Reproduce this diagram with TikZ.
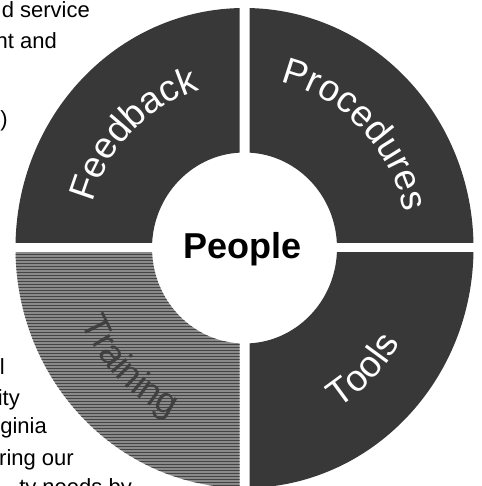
\documentclass[tikz,border=0pt]{standalone}
\usepackage{fontspec}
\setmainfont{Liberation Sans}
\usepackage{xcolor}
\usepackage{tikz}
\usetikzlibrary{decorations.text}
\usetikzlibrary{patterns}
\usetikzlibrary{positioning}

\definecolor{ringdark}{HTML}{383838}
\definecolor{ringgray}{HTML}{8A8A8A}
\definecolor{ringline}{HTML}{444444}

\newcommand{\ringfont}{\fontsize{37}{40}\selectfont}

\tikzset{
  ringtext/.style={decorate, decoration={text along path, text align=center, text color=#1}},
  bodytext/.style={anchor=base east, inner sep=0pt, font=\fontsize{22}{26}\selectfont},
}

\begin{document}
\begin{tikzpicture}[x=1pt, y=1pt]
  \useasboundingbox (-244.5,-238) rectangle (236.5,248);
  \clip (-244.5,-238) rectangle (236.5,248);

  % the four parts of the ring
  \foreach \sx/\sy/\col in {1/1/ringdark, -1/1/ringdark, 1/-1/ringdark, -1/-1/ringgray} {
    \begin{scope}
      \clip (\sx*5,\sy*5) rectangle (\sx*260,\sy*260);
      \fill[\col, even odd rule] (0,0) ellipse[x radius=229, y radius=240]
        (0,0) ellipse[x radius=92.5, y radius=95.5];
    \end{scope}
  }
  \begin{scope}
    \clip (-5,-5) rectangle (-260,-260);
    \fill[pattern=horizontal lines, pattern color=ringline, even odd rule]
      (0,0) ellipse[x radius=229, y radius=240]
      (0,0) ellipse[x radius=92.5, y radius=95.5];
  \end{scope}

  \node[font=\fontsize{36}{40}\selectfont\bfseries] (people) at (-2,-1) {People};

  \path[ringtext=white, decoration={text={|\ringfont|Feedback}}]
    (180:158 and 165) arc[start angle=180, end angle=90, x radius=158, y radius=165];
  \path[ringtext=white, decoration={text={|\ringfont|Procedures}}]
    (90:163 and 170) arc[start angle=90, end angle=0, x radius=163, y radius=170];
  \path[ringtext=white, decoration={text={|\ringfont|Tools}}]
    (-90:180 and 188) arc[start angle=-90, end angle=0, x radius=180, y radius=188];
  \path[ringtext=black!75, decoration={text={|\ringfont|Training}}]
    (180:178 and 186) arc[start angle=180, end angle=270, x radius=178, y radius=186];

  % surrounding page text
  \node[bodytext] (service) at (-154.5,230) {d service};
  \node[bodytext] (ntand) at (-187.5,199) {nt and};
  \node[bodytext] (sparen) at (-236.5,121) {s)};
  \node[bodytext] (lone) at (-239.5,-126) {l};
  \node[bodytext] (ity) at (-224.5,-157) {ity};
  \node[bodytext] (ginia) at (-197.5,-185) {ginia};
  \node[bodytext] (ringour) at (-170.5,-217) {ring our};
  \node[bodytext] (needs) at (-112.5,-246) {ty needs by};
\end{tikzpicture}
\end{document}
